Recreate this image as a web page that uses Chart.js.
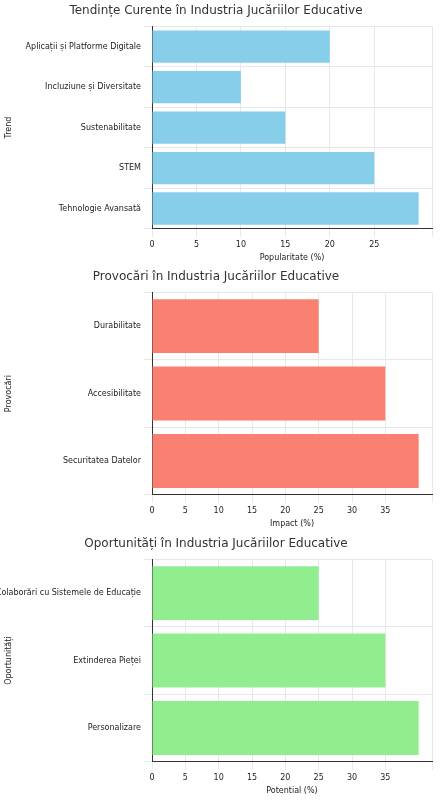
<!DOCTYPE html>
<html>
<head>
<meta charset="utf-8">
<script src="https://cdn.jsdelivr.net/npm/chart.js@4"></script>
<style>
  body { margin: 0; background: #fff; }
  .box { position: absolute; left: 0; width: 442px; height: 266px; }
</style>
</head>
<body>
<div class="box" style="top:0"><canvas id="c1"></canvas></div>
<div class="box" style="top:266px"><canvas id="c2"></canvas></div>
<div class="box" style="top:533px"><canvas id="c3"></canvas></div>
<script>
const trendLabels = ['Aplicații și Platforme Digitale', 'Incluziune și Diversitate', 'Sustenabilitate', 'STEM', 'Tehnologie Avansată'];
const trendValues = [20, 10, 15, 25, 30];
const challengeLabels = ['Durabilitate', 'Accesibilitate', 'Securitatea Datelor'];
const challengeValues = [25, 35, 40];
const opportunityLabels = ['Colaborări cu Sistemele de Educație', 'Extinderea Pieței', 'Personalizare'];
const opportunityValues = [25, 35, 40];

Chart.defaults.font.family = 'DejaVu Sans';
Chart.defaults.color = '#222';

function makeChart(id, labels, values, color, title, xTitle, yTitle, xMax) {
    new Chart(document.getElementById(id), {
        type: 'bar',
        data: { labels: labels, datasets: [{ data: values, backgroundColor: color, categoryPercentage: 0.8, barPercentage: 1 }] },
        options: {
            indexAxis: 'y',
            responsive: true,
            maintainAspectRatio: false,
            animation: false,
            layout: { padding: { right: 10, top: 2, bottom: 2, left: 0 } },
            plugins: {
                legend: { display: false },
                tooltip: { enabled: false },
                title: { display: true, text: title, font: { size: 12, weight: 'normal' }, color: '#333', padding: { top: 2, bottom: 8 } }
            },
            scales: {
                x: {
                    min: 0, max: xMax,
                    ticks: { stepSize: 5, font: { size: 8 }, callback: v => v % 5 === 0 ? v : '' },
                    grid: { color: '#e8e8e8' },
                    border: { color: '#333' },
                    title: { display: true, text: xTitle, font: { size: 8 }, padding: 1 }
                },
                y: {
                    ticks: { font: { size: 8 } },
                    grid: { color: '#e8e8e8' },
                    border: { color: '#333' },
                    title: { display: true, text: yTitle, font: { size: 8 } },
                    afterFit: s => { s.width = 152; }
                }
            }
        }
    });
}

makeChart('c1', trendLabels, trendValues, '#87ceeb', 'Tendințe Curente în Industria Jucăriilor Educative', 'Popularitate (%)', 'Trend', 31.5);
makeChart('c2', challengeLabels, challengeValues, '#fa8072', 'Provocări în Industria Jucăriilor Educative', 'Impact (%)', 'Provocări', 42);
makeChart('c3', opportunityLabels, opportunityValues, '#90ee90', 'Oportunități în Industria Jucăriilor Educative', 'Potential (%)', 'Oportunități', 42);
</script>
</body>
</html>
